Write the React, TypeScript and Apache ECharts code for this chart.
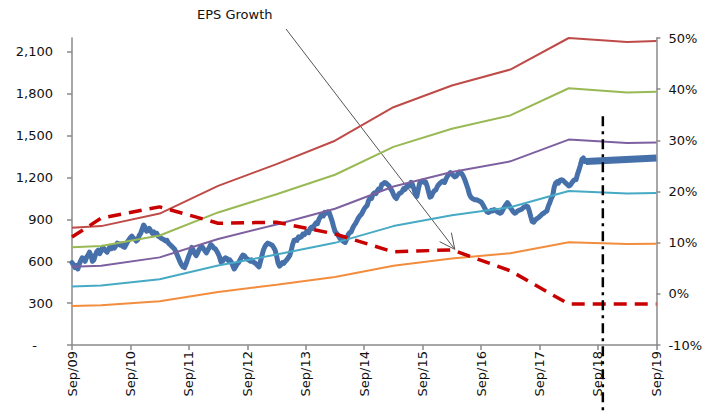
import React, { useEffect, useRef } from 'react';
import * as echarts from 'echarts';

// x positions are months since Sep 2009
const tickLabels = ['Sep/09', 'Sep/10', 'Sep/11', 'Sep/12', 'Sep/13', 'Sep/14', 'Sep/15', 'Sep/16', 'Sep/17', 'Sep/18', 'Sep/19'];

const bandMonths = [0, 6, 18, 30, 42, 54, 66, 78, 90, 102, 114, 120];
const bandRed = [840, 852, 942, 1140, 1296, 1464, 1704, 1860, 1974, 2200, 2172, 2178];
const bandGreen = [700, 710, 785, 950, 1080, 1220, 1420, 1550, 1645, 1840, 1810, 1815];
const bandPurple = [560, 568, 628, 760, 864, 976, 1136, 1240, 1316, 1472, 1448, 1452];
const bandTeal = [420, 426, 471, 570, 648, 732, 852, 930, 987, 1104, 1086, 1089];
const bandOrange = [280, 284, 314, 380, 432, 488, 568, 620, 658, 736, 724, 726];

const epsGrowth = [11.1, 14.8, 17.0, 13.8, 14.0, 11.7, 8.2, 8.6, 4.5, -2.0, -2.0, -2.0];

const indexMonths = [
  0, 0.3, 0.6, 0.9, 1.2, 1.5, 1.8, 2.1, 2.4, 2.7, 3.0, 3.3, 3.6, 3.9, 4.2, 4.5, 4.8, 5.1, 5.4, 5.7,
  6.0, 6.3, 6.6, 6.9, 7.2, 7.5, 7.8, 8.1, 8.4, 8.7, 9.0, 9.3, 9.6, 9.9, 10.2, 10.5, 10.8, 11.1, 11.4, 11.7,
  12.0, 12.3, 12.6, 12.9, 13.2, 13.5, 13.8, 14.1, 14.4, 14.7, 15.0, 15.3, 15.6, 15.9, 16.2, 16.5, 16.8, 17.1, 17.4, 17.7,
  18.0, 18.3, 18.6, 18.9, 19.2, 19.5, 19.8, 20.1, 20.4, 20.7, 21.0, 21.3, 21.6, 21.9, 22.2, 22.5, 22.8, 23.1, 23.4, 23.7,
  24.0, 24.3, 24.6, 24.9, 25.2, 25.5, 25.8, 26.1, 26.4, 26.7, 27.0, 27.3, 27.6, 27.9, 28.2, 28.5, 28.8, 29.1, 29.4, 29.7,
  30.0, 30.3, 30.6, 30.9, 31.2, 31.5, 31.8, 32.1, 32.4, 32.7, 33.0, 33.3, 33.6, 33.9, 34.2, 34.5, 34.8, 35.1, 35.4, 35.7,
  36.0, 36.3, 36.6, 36.9, 37.2, 37.5, 37.8, 38.1, 38.4, 38.7, 39.0, 39.3, 39.6, 39.9, 40.2, 40.5, 40.8, 41.1, 41.4, 41.7,
  42.0, 42.3, 42.6, 42.9, 43.2, 43.5, 43.8, 44.1, 44.4, 44.7, 45.0, 45.3, 45.6, 45.9, 46.2, 46.5, 46.8, 47.1, 47.4, 47.7,
  48.0, 48.3, 48.6, 48.9, 49.2, 49.5, 49.8, 50.1, 50.4, 50.7, 51.0, 51.3, 51.6, 51.9, 52.2, 52.5, 52.8, 53.1, 53.4, 53.7,
  54.0, 54.3, 54.6, 54.9, 55.2, 55.5, 55.8, 56.1, 56.4, 56.7, 57.0, 57.3, 57.6, 57.9, 58.2, 58.5, 58.8, 59.1, 59.4, 59.7,
  60.0, 60.3, 60.6, 60.9, 61.2, 61.5, 61.8, 62.1, 62.4, 62.7, 63.0, 63.3, 63.6, 63.9, 64.2, 64.5, 64.8, 65.1, 65.4, 65.7,
  66.0, 66.3, 66.6, 66.9, 67.2, 67.5, 67.8, 68.1, 68.4, 68.7, 69.0, 69.3, 69.6, 69.9, 70.2, 70.5, 70.8, 71.1, 71.4, 71.7,
  72.0, 72.3, 72.6, 72.9, 73.2, 73.5, 73.8, 74.1, 74.4, 74.7, 75.0, 75.3, 75.6, 75.9, 76.2, 76.5, 76.8, 77.1, 77.4, 77.7,
  78.0, 78.3, 78.6, 78.9, 79.2, 79.5, 79.8, 80.1, 80.4, 80.7, 81.0, 81.3, 81.6, 81.9, 82.2, 82.5, 82.8, 83.1, 83.4, 83.7,
  84.0, 84.3, 84.6, 84.9, 85.2, 85.5, 85.8, 86.1, 86.4, 86.7, 87.0, 87.3, 87.6, 87.9, 88.2, 88.5, 88.8, 89.1, 89.4, 89.7,
  90.0, 90.3, 90.6, 90.9, 91.2, 91.5, 91.8, 92.1, 92.4, 92.7, 93.0, 93.3, 93.6, 93.9, 94.2, 94.5, 94.8, 95.1, 95.4, 95.7,
  96.0, 96.3, 96.6, 96.9, 97.2, 97.5, 97.8, 98.1, 98.4, 98.7, 99.0, 99.3, 99.6, 99.9, 100.2, 100.5, 100.8, 101.1, 101.4, 101.7,
  102.0, 102.3, 102.6, 102.9, 103.2, 103.5, 103.8, 104.1, 104.4, 104.7, 105.0, 105.3, 105.5,
];
const indexValues = [
  590, 575, 555, 570, 545, 580, 605, 625, 615, 600, 630, 645, 665, 640, 600, 610, 645, 670, 680, 655,
  675, 700, 690, 675, 665, 685, 705, 690, 705, 695, 710, 730, 725, 715, 725, 705, 700, 720, 740, 755,
  770, 780, 765, 760, 745, 755, 785, 800, 830, 860, 845, 815, 820, 835, 815, 800, 810, 795, 800, 780,
  775, 765, 760, 755, 745, 750, 730, 720, 710, 700, 690, 670, 645, 620, 595, 575, 560, 555, 580, 610,
  640, 665, 700, 680, 655, 640, 660, 685, 700, 705, 690, 675, 660, 680, 700, 720, 710, 695, 690, 675,
  655, 630, 595, 600, 615, 625, 620, 605, 610, 595, 570, 545, 560, 580, 590, 610, 630, 645, 640, 625,
  615, 610, 600, 610, 595, 590, 580, 570, 560, 600, 640, 680, 705, 720, 730, 725, 720, 715, 700, 680,
  640, 590, 565, 575, 590, 585, 600, 610, 625, 640, 675, 720, 750, 755, 750, 775, 770, 775, 795, 790,
  805, 815, 805, 835, 845, 835, 860, 875, 870, 900, 920, 935, 925, 950, 945, 955, 950, 920, 890, 850,
  815, 800, 790, 770, 755, 750, 740, 735, 760, 790, 805, 810, 835, 855, 870, 890, 910, 925, 935, 955,
  975, 990, 1000, 1035, 1055, 1050, 1080, 1090, 1085, 1105, 1120, 1115, 1150, 1155, 1165, 1160, 1150, 1140, 1120, 1105,
  1080, 1060, 1050, 1070, 1085, 1090, 1100, 1120, 1115, 1135, 1145, 1140, 1165, 1150, 1120, 1080, 1065, 1115, 1160, 1170,
  1175, 1165, 1170, 1140, 1100, 1060, 1065, 1090, 1105, 1110, 1135, 1150, 1160, 1170, 1175, 1165, 1190, 1210, 1225, 1235,
  1225, 1215, 1205, 1210, 1225, 1240, 1235, 1225, 1205, 1180, 1150, 1120, 1080, 1060, 1050, 1045, 1040, 1040, 1035, 1030,
  1025, 1010, 990, 970, 955, 950, 955, 965, 960, 970, 965, 955, 950, 945, 950, 970, 990, 1005, 1020, 1005,
  985, 970, 955, 945, 950, 960, 965, 970, 975, 985, 990, 995, 990, 960, 920, 885, 880, 895, 905, 910,
  920, 930, 940, 945, 955, 960, 995, 1020, 1050, 1070, 1130, 1160, 1170, 1160, 1180, 1185, 1180, 1170, 1160, 1150,
  1140, 1145, 1160, 1175, 1185, 1185, 1225, 1255, 1290, 1330, 1340, 1315, 1315,
];

const projectionMonths = [105.5, 120];
const projectionValues = [1315, 1340];

const forecastMonth = 109;
const forecastTopValue = 1640;
const annotationText = 'EPS Growth';
const arrowMonth = 78.6;
const arrowPct = 8.7;

const FONT = 'DejaVu Sans';

export default function App() {
  const ref = useRef<HTMLDivElement>(null);
  useEffect(() => {
    const chart = echarts.init(ref.current!, null, { renderer: 'svg' });
    const pair = (xs: number[], ys: number[]) => xs.map((x, i) => [x, ys[i]]);
    const band = (name: string, vals: number[], color: string) => ({
      name,
      type: 'line',
      yAxisIndex: 0,
      data: pair(bandMonths, vals),
      showSymbol: false,
      silent: true,
      z: 3,
      lineStyle: { color, width: 2 },
    });
    const axisCol = '#8a8a8a';
    chart.setOption({
      animation: false,
      grid: { left: 72, right: 46, top: 38, bottom: 66, containLabel: false },
      xAxis: {
        type: 'value',
        min: 0,
        max: 120,
        interval: 12,
        splitLine: { show: false },
        axisLine: { lineStyle: { color: axisCol, width: 1.5 } },
        axisTick: { show: true, length: 5, lineStyle: { color: axisCol, width: 1.5 } },
        axisLabel: {
          rotate: 90,
          margin: 6,
          fontSize: 13,
          fontFamily: FONT,
          color: '#111',
          formatter: (v: number) => tickLabels[Math.round(v / 12)] ?? '',
        },
      },
      yAxis: [
        {
          type: 'value',
          min: 0,
          max: 2200,
          interval: 300,
          position: 'left',
          splitLine: { show: false },
          axisLine: { show: true, lineStyle: { color: axisCol, width: 1.5 } },
          axisTick: { show: true, length: 5, customValues: [0, 300, 600, 900, 1200, 1500, 1800, 2100], lineStyle: { color: axisCol, width: 1.5 } },
          axisLabel: {
            margin: 19,
            fontSize: 13,
            fontFamily: FONT,
            color: '#111',
            formatter: (v: number) => (v === 0 ? '{d|-}' : v % 300 === 0 ? v.toLocaleString('en-US') : ''),
            rich: { d: { padding: [0, 16, 0, 0], fontSize: 13, fontFamily: FONT, color: '#111' } },
          },
        },
        {
          type: 'value',
          min: -10,
          max: 50,
          interval: 10,
          position: 'right',
          splitLine: { show: false },
          axisLine: { show: true, lineStyle: { color: axisCol, width: 1.5 } },
          axisTick: { show: true, length: 4, lineStyle: { color: axisCol, width: 1.5 } },
          axisLabel: { margin: 12, fontSize: 13, fontFamily: FONT, color: '#111', formatter: '{value}%' },
        },
      ],
      series: [
        {
          name: 'Index',
          type: 'line',
          yAxisIndex: 0,
          data: pair(indexMonths, indexValues),
          showSymbol: false,
          silent: true,
          z: 2,
          lineStyle: { color: '#4670AA', width: 5, cap: 'round', join: 'round' },
        },
        {
          name: 'Projection',
          type: 'line',
          yAxisIndex: 0,
          data: pair(projectionMonths, projectionValues),
          showSymbol: false,
          silent: true,
          z: 2,
          lineStyle: { color: '#4670AA', width: 7 },
        },
        band('PE high', bandRed, '#BE4B48'),
        band('PE 2', bandGreen, '#98B954'),
        band('PE mid', bandPurple, '#7D60A0'),
        band('PE 4', bandTeal, '#46AAC5'),
        band('PE low', bandOrange, '#F38D3E'),
        {
          name: 'EPS Growth',
          type: 'line',
          yAxisIndex: 1,
          data: pair(bandMonths, epsGrowth),
          showSymbol: false,
          silent: true,
          z: 4,
          lineStyle: { color: '#C80000', width: 3.5, type: [13, 8] },
        },
      ],
    });

    const head = chart.convertToPixel({ seriesIndex: 7 }, [arrowMonth, arrowPct]) as number[];
    const vTop = chart.convertToPixel({ seriesIndex: 0 }, [forecastMonth, forecastTopValue]) as number[];
    const start = [286, 29];
    const dx = head[0] - start[0];
    const dy = head[1] - start[1];
    const len = Math.hypot(dx, dy);
    const ux = -dx / len;
    const uy = -dy / len;
    const wing = (ang: number) => {
      const c = Math.cos(ang);
      const s = Math.sin(ang);
      return [head[0] + 17 * (ux * c - uy * s), head[1] + 17 * (ux * s + uy * c)];
    };
    chart.setOption({
      graphic: [
        {
          type: 'text',
          left: 197,
          top: 8,
          silent: true,
          style: { text: annotationText, fontSize: 13, fontFamily: FONT, fill: '#111' },
        },
        {
          type: 'line',
          silent: true,
          shape: { x1: start[0], y1: start[1], x2: head[0], y2: head[1] },
          style: { stroke: '#555', lineWidth: 1 },
        },
        {
          type: 'polyline',
          silent: true,
          shape: { points: [wing(0.45), head, wing(-0.45)] },
          style: { stroke: '#555', lineWidth: 1, fill: null },
        },
        {
          type: 'line',
          silent: true,
          z: 10,
          shape: { x1: vTop[0], y1: vTop[1], x2: vTop[0], y2: 411 },
          style: { stroke: '#000', lineWidth: 2.5, lineDash: [10, 5, 3, 5] },
        },
      ],
    });
    return () => chart.dispose();
  }, []);
  return <div ref={ref} style={{ position: 'absolute', left: 0, top: 0, width: 705, height: 411 }} />;
}
